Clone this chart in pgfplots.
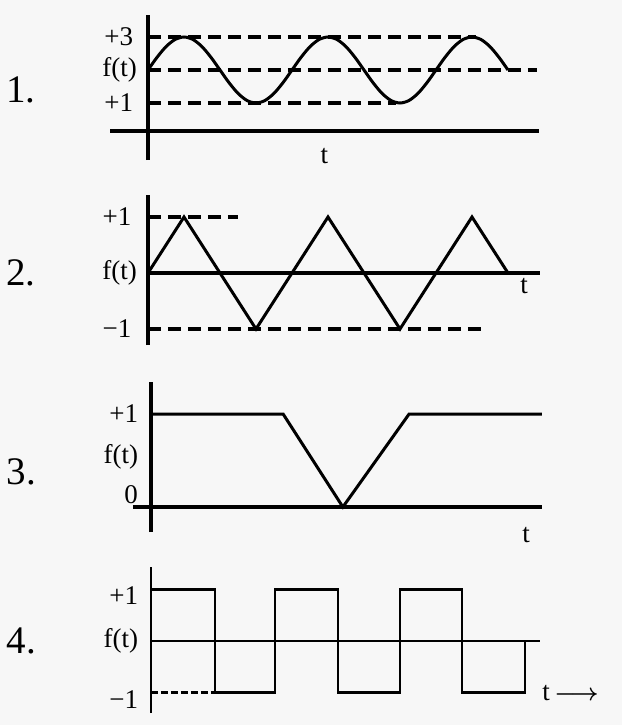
\documentclass[border=0pt]{standalone}
\usepackage{fontspec}
\setmainfont{Liberation Serif}
\usepackage{pgfplots}
\pgfplotsset{compat=1.18}
\tikzset{lbl/.style={font=\fontsize{13.5}{14}\selectfont, inner sep=0pt},
         num/.style={font=\fontsize{19.5}{21}\selectfont, inner sep=0pt, anchor=west}}
\pgfplotsset{panel/.style={axis lines=none, clip=false, x=18pt, xmin=-1.5, xmax=12.5,
   anchor=south west, ticks=none},
   dsh/.style={black, line width=1.6pt, dash pattern=on 6.5pt off 3.5pt},
   crv/.style={black, line width=1.5pt, mark=none}}
\begin{document}
\begin{tikzpicture}
\path[use as bounding box, fill=black!3] (0,0) rectangle (311pt,362.5pt);
% ---------- Panel 1 ----------
\begin{axis}[panel, at={(47pt,278pt)}, y=16.5pt, ymin=-1, ymax=4]
\addplot[crv, line width=1.6pt] coordinates {(0,-0.73) (0,3.67)};
\addplot[crv, line width=1.6pt] coordinates {(-1.05,0.15) (10.85,0.15)};
\addplot[dsh] coordinates {(0,3) (9.1,3)};
\addplot[dsh] coordinates {(0,2) (10.8,2)};
\addplot[dsh] coordinates {(0,1) (6.9,1)};
\addplot[crv, smooth] coordinates {
(0,2) (0.25,2.383) (0.5,2.707) (0.75,2.924) (1,3) (1.25,2.924) (1.5,2.707) (1.75,2.383)
(2,2) (2.25,1.617) (2.5,1.293) (2.75,1.076) (3,1) (3.25,1.076) (3.5,1.293) (3.75,1.617)
(4,2) (4.25,2.383) (4.5,2.707) (4.75,2.924) (5,3) (5.25,2.924) (5.5,2.707) (5.75,2.383)
(6,2) (6.25,1.617) (6.5,1.293) (6.75,1.076) (7,1) (7.25,1.076) (7.5,1.293) (7.75,1.617)
(8,2) (8.25,2.383) (8.5,2.707) (8.75,2.924) (9,3) (9.25,2.924) (9.5,2.707) (9.75,2.383)
(10,2)};
\node[lbl, anchor=east] at (axis cs:-0.4,3) {+3};
\node[lbl, anchor=east] at (axis cs:-0.3,2) {f(t)};
\node[lbl, anchor=east] at (axis cs:-0.4,1) {+1};
\node[lbl] at (axis cs:4.9,-0.6) {t};
\node[num] at (axis cs:-3.95,1.4) {1.};
\end{axis}
% ---------- Panel 2 ----------
\begin{axis}[panel, at={(47pt,184pt)}, y=28pt, ymin=-1.5, ymax=1.5]
\addplot[crv, line width=1.6pt] coordinates {(0,-1.29) (0,1.39)};
\addplot[crv, line width=1.6pt] coordinates {(0,0) (10.9,0)};
\addplot[dsh] coordinates {(0,1) (2.5,1)};
\addplot[dsh] coordinates {(0,-1) (9.3,-1)};
\addplot[crv] coordinates {(0,0) (1,1) (3,-1) (5,1) (7,-1) (9,1) (10,0)};
\node[lbl, anchor=east] at (axis cs:-0.45,1) {+1};
\node[lbl, anchor=east] at (axis cs:-0.3,0) {f(t)};
\node[lbl, anchor=east] at (axis cs:-0.45,-1) {−1};
\node[lbl] at (axis cs:10.45,-0.23) {t};
\node[num] at (axis cs:-3.95,0) {2.};
\end{axis}
% ---------- Panel 3 ----------
\begin{axis}[panel, at={(48.5pt,90.4pt)}, y=46.5pt, ymin=-0.4, ymax=1.4]
\addplot[crv, line width=1.6pt] coordinates {(0,-0.27) (0,1.34)};
\addplot[crv, line width=1.6pt] coordinates {(-0.5,0) (10.86,0)};
\addplot[crv] coordinates {(0,1) (3.67,1) (5.33,0) (7.17,1) (10.86,1)};
\node[lbl, anchor=east] at (axis cs:-0.35,1) {+1};
\node[lbl, anchor=east] at (axis cs:-0.35,0.54) {f(t)};
\node[lbl, anchor=east] at (axis cs:-0.35,0.13) {0};
\node[lbl] at (axis cs:10.42,-0.3) {t};
\node[num] at (axis cs:-4.02,0.38) {3.};
\end{axis}
% ---------- Panel 4 ----------
\begin{axis}[panel, at={(48.5pt,3.375pt)}, y=25.75pt, ymin=-1.5, ymax=1.5]
\addplot[crv, line width=1.4pt] coordinates {(0,-1.4) (0,1.44)};
\addplot[crv, line width=1.2pt] coordinates {(0,0) (10.8,0)};
\addplot[crv, line width=1.1pt, dash pattern=on 3.5pt off 1.5pt] coordinates {(0,-1) (1.78,-1)};
\addplot[crv, line width=1.3pt] coordinates {(0,1) (1.78,1) (1.78,-1) (3.44,-1) (3.44,1) (5.19,1) (5.19,-1)
 (6.92,-1) (6.92,1) (8.64,1) (8.64,-1) (10.39,-1) (10.39,0)};
\node[lbl, anchor=east] at (axis cs:-0.35,0.89) {+1};
\node[lbl, anchor=east] at (axis cs:-0.35,0) {f(t)};
\node[lbl, anchor=east] at (axis cs:-0.35,-1.13) {−1};
\node[lbl, anchor=west] at (axis cs:10.86,-1.01) {t\,{\fontsize{13}{13}\selectfont\boldmath$\longrightarrow$}};
\node[num] at (axis cs:-4.02,0) {4.};
\end{axis}
\end{tikzpicture}
\end{document}
